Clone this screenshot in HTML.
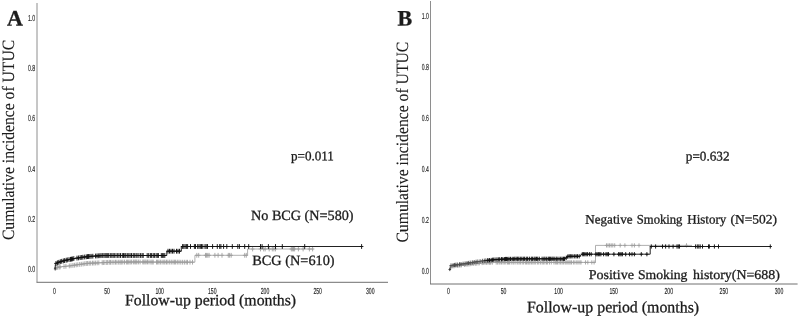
<!DOCTYPE html>
<html><head><meta charset="utf-8"><title>Cumulative incidence of UTUC</title>
<style>
html,body{margin:0;padding:0;background:#fff;}
body{width:799px;height:317px;overflow:hidden;}
svg{display:block;}
</style></head><body>
<svg width="799" height="317" viewBox="0 0 799 317" text-rendering="geometricPrecision">
<rect width="799" height="317" fill="#fff"/>
<path d="M37 3V282.3" fill="none" stroke="#8e8e8e" stroke-width="1"/>
<path d="M36.5 282.3H388" fill="none" stroke="#707070" stroke-width="1"/>
<text transform="translate(35.2,21.1) rotate(0.03) scale(0.59,1)" text-anchor="end" style='font-family:"Liberation Sans",sans-serif;font-size:8.7px;fill:#222;stroke:#222;stroke-width:0.15px'>1.0</text>
<text transform="translate(35.2,71.1) rotate(0.03) scale(0.59,1)" text-anchor="end" style='font-family:"Liberation Sans",sans-serif;font-size:8.7px;fill:#222;stroke:#222;stroke-width:0.15px'>0.8</text>
<text transform="translate(35.2,121.1) rotate(0.03) scale(0.59,1)" text-anchor="end" style='font-family:"Liberation Sans",sans-serif;font-size:8.7px;fill:#222;stroke:#222;stroke-width:0.15px'>0.6</text>
<text transform="translate(35.2,171.6) rotate(0.03) scale(0.59,1)" text-anchor="end" style='font-family:"Liberation Sans",sans-serif;font-size:8.7px;fill:#222;stroke:#222;stroke-width:0.15px'>0.4</text>
<text transform="translate(35.2,222.1) rotate(0.03) scale(0.59,1)" text-anchor="end" style='font-family:"Liberation Sans",sans-serif;font-size:8.7px;fill:#222;stroke:#222;stroke-width:0.15px'>0.2</text>
<text transform="translate(35.2,272.1) rotate(0.03) scale(0.59,1)" text-anchor="end" style='font-family:"Liberation Sans",sans-serif;font-size:8.7px;fill:#222;stroke:#222;stroke-width:0.15px'>0.0</text>
<text transform="translate(54.5,293.7) rotate(0.03) scale(0.59,1)" text-anchor="middle" style='font-family:"Liberation Sans",sans-serif;font-size:8.7px;fill:#222;stroke:#222;stroke-width:0.15px'>0</text>
<text transform="translate(107,293.7) rotate(0.03) scale(0.59,1)" text-anchor="middle" style='font-family:"Liberation Sans",sans-serif;font-size:8.7px;fill:#222;stroke:#222;stroke-width:0.15px'>50</text>
<text transform="translate(159.7,293.7) rotate(0.03) scale(0.59,1)" text-anchor="middle" style='font-family:"Liberation Sans",sans-serif;font-size:8.7px;fill:#222;stroke:#222;stroke-width:0.15px'>100</text>
<text transform="translate(212.3,293.7) rotate(0.03) scale(0.59,1)" text-anchor="middle" style='font-family:"Liberation Sans",sans-serif;font-size:8.7px;fill:#222;stroke:#222;stroke-width:0.15px'>150</text>
<text transform="translate(265,293.7) rotate(0.03) scale(0.59,1)" text-anchor="middle" style='font-family:"Liberation Sans",sans-serif;font-size:8.7px;fill:#222;stroke:#222;stroke-width:0.15px'>200</text>
<text transform="translate(317.7,293.7) rotate(0.03) scale(0.59,1)" text-anchor="middle" style='font-family:"Liberation Sans",sans-serif;font-size:8.7px;fill:#222;stroke:#222;stroke-width:0.15px'>250</text>
<text transform="translate(370.3,293.7) rotate(0.03) scale(0.59,1)" text-anchor="middle" style='font-family:"Liberation Sans",sans-serif;font-size:8.7px;fill:#222;stroke:#222;stroke-width:0.15px'>300</text>
<path d="M55.0 269.0 L55.6 267.8 L58.0 267.2 L70.0 265.8 L87.0 263.4 L110.0 262.3 L135.0 262.0 L194.9 262.2 L194.9 255.3 L247.6 255.3 L247.6 249.0 L313.4 249.0" fill="none" stroke="#9c9c9c" stroke-width="0.8"/>
<path d="M54.2 267.7h3.6M56.0 265.3v4.8M55.8 267.3h3.6M57.6 264.9v4.8M57.3 267.1h3.6M59.1 264.7v4.8M58.3 266.9h3.6M60.1 264.5v4.8M62.2 266.5h3.6M64.0 264.1v4.8M64.1 266.3h3.6M65.9 263.9v4.8M67.5 265.9h3.6M69.3 263.5v4.8M69.2 265.7h3.6M71.0 263.3v4.8M71.1 265.4h3.6M72.9 263.0v4.8M72.6 265.2h3.6M74.4 262.8v4.8M74.4 264.9h3.6M76.2 262.5v4.8M76.0 264.7h3.6M77.8 262.3v4.8M77.9 264.4h3.6M79.7 262.0v4.8M79.5 264.2h3.6M81.3 261.8v4.8M81.3 264.0h3.6M83.1 261.6v4.8M83.0 263.7h3.6M84.8 261.3v4.8M84.5 263.5h3.6M86.3 261.1v4.8M85.8 263.4h3.6M87.6 261.0v4.8M87.4 263.3h3.6M89.2 260.9v4.8M88.9 263.2h3.6M90.7 260.8v4.8M90.7 263.1h3.6M92.5 260.7v4.8M92.1 263.1h3.6M93.9 260.7v4.8M93.6 263.0h3.6M95.4 260.6v4.8M95.4 262.9h3.6M97.2 260.5v4.8M97.0 262.8h3.6M98.8 260.4v4.8M100.4 262.7h3.6M102.2 260.3v4.8M101.6 262.6h3.6M103.4 260.2v4.8M103.1 262.5h3.6M104.9 260.1v4.8M104.9 262.5h3.6M106.7 260.1v4.8M105.9 262.4h3.6M107.7 260.0v4.8M107.5 262.3h3.6M109.3 259.9v4.8M108.7 262.3h3.6M110.5 259.9v4.8M110.3 262.3h3.6M112.1 259.9v4.8M112.1 262.3h3.6M113.9 259.9v4.8M113.7 262.2h3.6M115.5 259.8v4.8M115.1 262.2h3.6M116.9 259.8v4.8M116.9 262.2h3.6M118.7 259.8v4.8M118.3 262.2h3.6M120.1 259.8v4.8M119.5 262.2h3.6M121.3 259.8v4.8M121.0 262.1h3.6M122.8 259.7v4.8M122.7 262.1h3.6M124.5 259.7v4.8M124.6 262.1h3.6M126.4 259.7v4.8M125.8 262.1h3.6M127.6 259.7v4.8M127.0 262.1h3.6M128.8 259.7v4.8M128.4 262.1h3.6M130.2 259.7v4.8M129.8 262.0h3.6M131.6 259.6v4.8M131.6 262.0h3.6M133.4 259.6v4.8M133.0 262.0h3.6M134.8 259.6v4.8M134.0 262.0h3.6M135.8 259.6v4.8M135.0 262.0h3.6M136.8 259.6v4.8M136.6 262.0h3.6M138.4 259.6v4.8M138.3 262.0h3.6M140.1 259.6v4.8M141.0 262.0h3.6M142.8 259.6v4.8M142.0 262.0h3.6M143.8 259.6v4.8M143.2 262.0h3.6M145.0 259.6v4.8M144.3 262.0h3.6M146.1 259.6v4.8M145.7 262.0h3.6M147.5 259.6v4.8M147.2 262.0h3.6M149.0 259.6v4.8M149.1 262.1h3.6M150.9 259.7v4.8M150.3 262.1h3.6M152.1 259.7v4.8M151.4 262.1h3.6M153.2 259.7v4.8M154.7 262.1h3.6M156.5 259.7v4.8M155.8 262.1h3.6M157.6 259.7v4.8M157.1 262.1h3.6M158.9 259.7v4.8M158.6 262.1h3.6M160.4 259.7v4.8M160.3 262.1h3.6M162.1 259.7v4.8M162.0 262.1h3.6M163.8 259.7v4.8M163.1 262.1h3.6M164.9 259.7v4.8M164.7 262.1h3.6M166.5 259.7v4.8M166.1 262.1h3.6M167.9 259.7v4.8M167.9 262.1h3.6M169.7 259.7v4.8M169.5 262.1h3.6M171.3 259.7v4.8M171.2 262.1h3.6M173.0 259.7v4.8M172.6 262.1h3.6M174.4 259.7v4.8M173.8 262.1h3.6M175.6 259.7v4.8M175.5 262.1h3.6M177.3 259.7v4.8M177.2 262.1h3.6M179.0 259.7v4.8M179.0 262.2h3.6M180.8 259.8v4.8M180.8 262.2h3.6M182.6 259.8v4.8M182.6 262.2h3.6M184.4 259.8v4.8M184.4 262.2h3.6M186.2 259.8v4.8M185.7 262.2h3.6M187.5 259.8v4.8M188.2 262.2h3.6M190.0 259.8v4.8M190.7 262.2h3.6M192.5 259.8v4.8M195.0 255.3h3.6M196.8 252.9v4.8M196.9 255.3h3.6M198.7 252.9v4.8M203.7 255.3h3.6M205.5 252.9v4.8M204.8 255.3h3.6M206.6 252.9v4.8M206.0 255.3h3.6M207.8 252.9v4.8M207.3 255.3h3.6M209.1 252.9v4.8M213.1 255.3h3.6M214.9 252.9v4.8M216.3 255.3h3.6M218.1 252.9v4.8M220.2 255.3h3.6M222.0 252.9v4.8M226.5 255.3h3.6M228.3 252.9v4.8M227.8 255.3h3.6M229.6 252.9v4.8M229.4 255.3h3.6M231.2 252.9v4.8M242.9 255.3h3.6M244.7 252.9v4.8M244.5 255.3h3.6M246.3 252.9v4.8M250.8 249.0h3.6M252.6 246.6v4.8M258.7 249.0h3.6M260.5 246.6v4.8M261.9 249.0h3.6M263.7 246.6v4.8M263.4 249.0h3.6M265.2 246.6v4.8M267.4 249.0h3.6M269.2 246.6v4.8M270.5 249.0h3.6M272.3 246.6v4.8M272.1 249.0h3.6M273.9 246.6v4.8M273.7 249.0h3.6M275.5 246.6v4.8M289.5 249.0h3.6M291.3 246.6v4.8M290.6 249.0h3.6M292.4 246.6v4.8M291.7 249.0h3.6M293.5 246.6v4.8M292.8 249.0h3.6M294.6 246.6v4.8M296.6 249.0h3.6M298.4 246.6v4.8M301.3 249.0h3.6M303.1 246.6v4.8M307.6 249.0h3.6M309.4 246.6v4.8M310.8 249.0h3.6M312.6 246.6v4.8" fill="none" stroke="#9c9c9c" stroke-width="0.85"/>
<path d="M55.0 269.0 L55.4 264.5 L56.0 263.4 L60.0 261.8 L66.0 260.2 L75.0 258.4 L87.3 256.6 L103.0 255.5 L166.8 255.5 L166.8 251.2 L181.3 251.2 L181.3 246.5 L361.6 246.5" fill="none" stroke="#222" stroke-width="1"/>
<path d="M54.2 263.4h3.6M56.0 261.0v4.8M55.6 262.8h3.6M57.4 260.4v4.8M57.0 262.3h3.6M58.8 259.9v4.8M58.5 261.7h3.6M60.3 259.3v4.8M59.9 261.3h3.6M61.7 258.9v4.8M61.5 260.9h3.6M63.3 258.5v4.8M62.8 260.6h3.6M64.6 258.2v4.8M64.4 260.2h3.6M66.2 257.8v4.8M65.5 259.9h3.6M67.3 257.5v4.8M67.2 259.6h3.6M69.0 257.2v4.8M68.7 259.3h3.6M70.5 256.9v4.8M69.7 259.1h3.6M71.5 256.7v4.8M70.8 258.9h3.6M72.6 256.5v4.8M72.0 258.6h3.6M73.8 256.2v4.8M75.2 258.1h3.6M77.0 255.7v4.8M76.8 257.9h3.6M78.6 255.5v4.8M78.4 257.6h3.6M80.2 255.2v4.8M79.9 257.4h3.6M81.7 255.0v4.8M81.1 257.2h3.6M82.9 254.8v4.8M82.9 257.0h3.6M84.7 254.6v4.8M84.5 256.8h3.6M86.3 254.4v4.8M85.7 256.6h3.6M87.5 254.2v4.8M86.7 256.5h3.6M88.5 254.1v4.8M88.0 256.4h3.6M89.8 254.0v4.8M89.3 256.3h3.6M91.1 253.9v4.8M91.0 256.2h3.6M92.8 253.8v4.8M93.8 256.0h3.6M95.6 253.6v4.8M95.2 255.9h3.6M97.0 253.5v4.8M96.5 255.8h3.6M98.3 253.4v4.8M98.0 255.7h3.6M99.8 253.3v4.8M99.2 255.6h3.6M101.0 253.2v4.8M100.5 255.5h3.6M102.3 253.1v4.8M102.1 255.5h3.6M103.9 253.1v4.8M103.3 255.5h3.6M105.1 253.1v4.8M104.4 255.5h3.6M106.2 253.1v4.8M105.5 255.5h3.6M107.3 253.1v4.8M106.9 255.5h3.6M108.7 253.1v4.8M108.5 255.5h3.6M110.3 253.1v4.8M110.0 255.5h3.6M111.8 253.1v4.8M111.3 255.5h3.6M113.1 253.1v4.8M112.5 255.5h3.6M114.3 253.1v4.8M114.2 255.5h3.6M116.0 253.1v4.8M115.9 255.5h3.6M117.7 253.1v4.8M117.2 255.5h3.6M119.0 253.1v4.8M118.7 255.5h3.6M120.5 253.1v4.8M120.5 255.5h3.6M122.3 253.1v4.8M121.7 255.5h3.6M123.5 253.1v4.8M123.0 255.5h3.6M124.8 253.1v4.8M124.0 255.5h3.6M125.8 253.1v4.8M125.5 255.5h3.6M127.3 253.1v4.8M127.0 255.5h3.6M128.8 253.1v4.8M128.3 255.5h3.6M130.1 253.1v4.8M129.7 255.5h3.6M131.5 253.1v4.8M131.4 255.5h3.6M133.2 253.1v4.8M132.5 255.5h3.6M134.3 253.1v4.8M134.2 255.5h3.6M136.0 253.1v4.8M135.3 255.5h3.6M137.1 253.1v4.8M137.1 255.5h3.6M138.9 253.1v4.8M138.8 255.5h3.6M140.6 253.1v4.8M140.3 255.5h3.6M142.1 253.1v4.8M141.4 255.5h3.6M143.2 253.1v4.8M145.4 255.5h3.6M147.2 253.1v4.8M146.9 255.5h3.6M148.7 253.1v4.8M148.6 255.5h3.6M150.4 253.1v4.8M149.8 255.5h3.6M151.6 253.1v4.8M151.4 255.5h3.6M153.2 253.1v4.8M152.6 255.5h3.6M154.4 253.1v4.8M154.3 255.5h3.6M156.1 253.1v4.8M155.5 255.5h3.6M157.3 253.1v4.8M156.6 255.5h3.6M158.4 253.1v4.8M159.5 255.5h3.6M161.3 253.1v4.8M160.6 255.5h3.6M162.4 253.1v4.8M161.9 255.5h3.6M163.7 253.1v4.8M163.0 255.5h3.6M164.8 253.1v4.8M166.2 251.2h3.6M168.0 248.8v4.8M167.7 251.2h3.6M169.5 248.8v4.8M169.2 251.2h3.6M171.0 248.8v4.8M170.7 251.2h3.6M172.5 248.8v4.8M172.2 251.2h3.6M174.0 248.8v4.8M174.7 251.2h3.6M176.5 248.8v4.8M176.2 251.2h3.6M178.0 248.8v4.8M177.7 251.2h3.6M179.5 248.8v4.8M180.8 246.5h3.6M182.6 244.1v4.8M182.0 246.5h3.6M183.8 244.1v4.8M183.3 246.5h3.6M185.1 244.1v4.8M184.6 246.5h3.6M186.4 244.1v4.8M185.8 246.5h3.6M187.6 244.1v4.8M188.7 246.5h3.6M190.5 244.1v4.8M192.6 246.5h3.6M194.4 244.1v4.8M193.7 246.5h3.6M195.5 244.1v4.8M195.9 246.5h3.6M197.7 244.1v4.8M197.2 246.5h3.6M199.0 244.1v4.8M198.5 246.5h3.6M200.3 244.1v4.8M199.7 246.5h3.6M201.5 244.1v4.8M201.0 246.5h3.6M202.8 244.1v4.8M203.2 246.5h3.6M205.0 244.1v4.8M204.4 246.5h3.6M206.2 244.1v4.8M205.7 246.5h3.6M207.5 244.1v4.8M210.8 246.5h3.6M212.6 244.1v4.8M215.5 246.5h3.6M217.3 244.1v4.8M217.9 246.5h3.6M219.7 244.1v4.8M219.1 246.5h3.6M220.9 244.1v4.8M221.8 246.5h3.6M223.6 244.1v4.8M225.0 246.5h3.6M226.8 244.1v4.8M230.5 246.5h3.6M232.3 244.1v4.8M236.0 246.5h3.6M237.8 244.1v4.8M237.6 246.5h3.6M239.4 244.1v4.8M242.9 246.5h3.6M244.7 244.1v4.8M246.9 246.5h3.6M248.7 244.1v4.8M258.7 246.5h3.6M260.5 244.1v4.8M260.3 246.5h3.6M262.1 244.1v4.8M266.6 246.5h3.6M268.4 244.1v4.8M273.7 246.5h3.6M275.5 244.1v4.8M280.5 246.5h3.6M282.3 244.1v4.8M302.9 246.5h3.6M304.7 244.1v4.8M359.8 246.5h3.6M361.6 244.1v4.8" fill="none" stroke="#111" stroke-width="0.95"/>
<path d="M53.900000000000006 268.9h2.6M55.2 267.29999999999995v3.2" fill="none" stroke="#333" stroke-width="0.9"/>
<path d="M430.5 1V284" fill="none" stroke="#8e8e8e" stroke-width="1"/>
<path d="M430.0 284H797.6" fill="none" stroke="#707070" stroke-width="1"/>
<text transform="translate(428.8,19.400000000000002) rotate(0.03) scale(0.59,1)" text-anchor="end" style='font-family:"Liberation Sans",sans-serif;font-size:8.7px;fill:#222;stroke:#222;stroke-width:0.15px'>1.0</text>
<text transform="translate(428.8,70.3) rotate(0.03) scale(0.59,1)" text-anchor="end" style='font-family:"Liberation Sans",sans-serif;font-size:8.7px;fill:#222;stroke:#222;stroke-width:0.15px'>0.8</text>
<text transform="translate(428.8,121.3) rotate(0.03) scale(0.59,1)" text-anchor="end" style='font-family:"Liberation Sans",sans-serif;font-size:8.7px;fill:#222;stroke:#222;stroke-width:0.15px'>0.6</text>
<text transform="translate(428.8,172.29999999999998) rotate(0.03) scale(0.59,1)" text-anchor="end" style='font-family:"Liberation Sans",sans-serif;font-size:8.7px;fill:#222;stroke:#222;stroke-width:0.15px'>0.4</text>
<text transform="translate(428.8,223.2) rotate(0.03) scale(0.59,1)" text-anchor="end" style='font-family:"Liberation Sans",sans-serif;font-size:8.7px;fill:#222;stroke:#222;stroke-width:0.15px'>0.2</text>
<text transform="translate(428.8,274.20000000000005) rotate(0.03) scale(0.59,1)" text-anchor="end" style='font-family:"Liberation Sans",sans-serif;font-size:8.7px;fill:#222;stroke:#222;stroke-width:0.15px'>0.0</text>
<text transform="translate(448.4,294.3) rotate(0.03) scale(0.59,1)" text-anchor="middle" style='font-family:"Liberation Sans",sans-serif;font-size:8.7px;fill:#222;stroke:#222;stroke-width:0.15px'>0</text>
<text transform="translate(503.5,294.3) rotate(0.03) scale(0.59,1)" text-anchor="middle" style='font-family:"Liberation Sans",sans-serif;font-size:8.7px;fill:#222;stroke:#222;stroke-width:0.15px'>50</text>
<text transform="translate(558.6,294.3) rotate(0.03) scale(0.59,1)" text-anchor="middle" style='font-family:"Liberation Sans",sans-serif;font-size:8.7px;fill:#222;stroke:#222;stroke-width:0.15px'>100</text>
<text transform="translate(613.7,294.3) rotate(0.03) scale(0.59,1)" text-anchor="middle" style='font-family:"Liberation Sans",sans-serif;font-size:8.7px;fill:#222;stroke:#222;stroke-width:0.15px'>150</text>
<text transform="translate(668.8,294.3) rotate(0.03) scale(0.59,1)" text-anchor="middle" style='font-family:"Liberation Sans",sans-serif;font-size:8.7px;fill:#222;stroke:#222;stroke-width:0.15px'>200</text>
<text transform="translate(723.9,294.3) rotate(0.03) scale(0.59,1)" text-anchor="middle" style='font-family:"Liberation Sans",sans-serif;font-size:8.7px;fill:#222;stroke:#222;stroke-width:0.15px'>250</text>
<text transform="translate(779,294.3) rotate(0.03) scale(0.59,1)" text-anchor="middle" style='font-family:"Liberation Sans",sans-serif;font-size:8.7px;fill:#222;stroke:#222;stroke-width:0.15px'>300</text>
<path d="M450.0 269.5 L450.6 267.2 L452.0 266.4 L462.0 265.2 L473.0 263.8 L484.0 262.8 L500.0 262.4 L595.5 262.4 L595.5 245.4 L692.0 245.4" fill="none" stroke="#9c9c9c" stroke-width="0.8"/>
<path d="M449.4 267.0h3.2M451.0 264.9v4.2M451.1 266.3h3.2M452.7 264.2v4.2M452.5 266.2h3.2M454.1 264.1v4.2M454.3 265.9h3.2M455.9 263.8v4.2M455.9 265.7h3.2M457.5 263.6v4.2M457.3 265.6h3.2M458.9 263.5v4.2M458.4 265.4h3.2M460.0 263.3v4.2M459.8 265.3h3.2M461.4 263.2v4.2M462.8 264.9h3.2M464.4 262.8v4.2M464.4 264.7h3.2M466.0 262.6v4.2M466.2 264.5h3.2M467.8 262.4v4.2M467.5 264.3h3.2M469.1 262.2v4.2M469.1 264.1h3.2M470.7 262.0v4.2M470.4 263.9h3.2M472.0 261.8v4.2M472.0 263.7h3.2M473.6 261.6v4.2M473.7 263.6h3.2M475.3 261.5v4.2M474.7 263.5h3.2M476.3 261.4v4.2M476.4 263.3h3.2M478.0 261.2v4.2M477.7 263.2h3.2M479.3 261.1v4.2M480.5 263.0h3.2M482.1 260.9v4.2M481.6 262.9h3.2M483.2 260.8v4.2M483.4 262.8h3.2M485.0 260.7v4.2M484.9 262.7h3.2M486.5 260.6v4.2M486.4 262.7h3.2M488.0 260.6v4.2M488.0 262.7h3.2M489.6 260.6v4.2M489.0 262.6h3.2M490.6 260.5v4.2M490.7 262.6h3.2M492.3 260.5v4.2M494.6 262.5h3.2M496.2 260.4v4.2M496.0 262.5h3.2M497.6 260.4v4.2M497.5 262.4h3.2M499.1 260.3v4.2M498.5 262.4h3.2M500.1 260.3v4.2M499.9 262.4h3.2M501.5 260.3v4.2M501.4 262.4h3.2M503.0 260.3v4.2M502.7 262.4h3.2M504.3 260.3v4.2M504.2 262.4h3.2M505.8 260.3v4.2M505.9 262.4h3.2M507.5 260.3v4.2M506.9 262.4h3.2M508.5 260.3v4.2M507.9 262.4h3.2M509.5 260.3v4.2M509.6 262.4h3.2M511.2 260.3v4.2M511.4 262.4h3.2M513.0 260.3v4.2M512.4 262.4h3.2M514.0 260.3v4.2M514.3 262.4h3.2M515.9 260.3v4.2M516.1 262.4h3.2M517.7 260.3v4.2M517.5 262.4h3.2M519.1 260.3v4.2M518.8 262.4h3.2M520.4 260.3v4.2M520.6 262.4h3.2M522.2 260.3v4.2M522.0 262.4h3.2M523.6 260.3v4.2M523.8 262.4h3.2M525.4 260.3v4.2M524.9 262.4h3.2M526.5 260.3v4.2M526.3 262.4h3.2M527.9 260.3v4.2M527.3 262.4h3.2M528.9 260.3v4.2M528.4 262.4h3.2M530.0 260.3v4.2M530.0 262.4h3.2M531.6 260.3v4.2M531.3 262.4h3.2M532.9 260.3v4.2M532.6 262.4h3.2M534.2 260.3v4.2M534.1 262.4h3.2M535.7 260.3v4.2M536.0 262.4h3.2M537.6 260.3v4.2M537.2 262.4h3.2M538.8 260.3v4.2M539.0 262.4h3.2M540.6 260.3v4.2M540.6 262.4h3.2M542.2 260.3v4.2M541.8 262.4h3.2M543.4 260.3v4.2M543.3 262.4h3.2M544.9 260.3v4.2M544.9 262.4h3.2M546.5 260.3v4.2M546.0 262.4h3.2M547.6 260.3v4.2M547.9 262.4h3.2M549.5 260.3v4.2M549.7 262.4h3.2M551.3 260.3v4.2M552.3 262.4h3.2M553.9 260.3v4.2M553.7 262.4h3.2M555.3 260.3v4.2M554.8 262.4h3.2M556.4 260.3v4.2M555.9 262.4h3.2M557.5 260.3v4.2M557.5 262.4h3.2M559.1 260.3v4.2M559.0 262.4h3.2M560.6 260.3v4.2M560.5 262.4h3.2M562.1 260.3v4.2M561.8 262.4h3.2M563.4 260.3v4.2M563.5 262.4h3.2M565.1 260.3v4.2M564.6 262.4h3.2M566.2 260.3v4.2M566.2 262.4h3.2M567.8 260.3v4.2M567.4 262.4h3.2M569.0 260.3v4.2M568.6 262.4h3.2M570.2 260.3v4.2M569.9 262.4h3.2M571.5 260.3v4.2M571.8 262.4h3.2M573.4 260.3v4.2M573.3 262.4h3.2M574.9 260.3v4.2M575.2 262.4h3.2M576.8 260.3v4.2M576.5 262.4h3.2M578.1 260.3v4.2M578.3 262.4h3.2M579.9 260.3v4.2M579.4 262.4h3.2M581.0 260.3v4.2M583.9 262.4h3.2M585.5 260.3v4.2M586.2 262.4h3.2M587.8 260.3v4.2M590.2 262.4h3.2M591.8 260.3v4.2M592.5 262.4h3.2M594.1 260.3v4.2M604.9 245.4h3.2M606.5 243.3v4.2M606.4 245.4h3.2M608.0 243.3v4.2M608.0 245.4h3.2M609.6 243.3v4.2M609.6 245.4h3.2M611.2 243.3v4.2M611.2 245.4h3.2M612.8 243.3v4.2M613.1 245.4h3.2M614.7 243.3v4.2M618.6 245.4h3.2M620.2 243.3v4.2M623.3 245.4h3.2M624.9 243.3v4.2M630.4 245.4h3.2M632.0 243.3v4.2M632.8 245.4h3.2M634.4 243.3v4.2M637.4 245.4h3.2M639.0 243.3v4.2M684.9 245.4h3.2M686.5 243.3v4.2" fill="none" stroke="#9c9c9c" stroke-width="0.85"/>
<path d="M449.4 265.5h3.2M451.0 263.4v4.2M451.5 265.2h3.2M453.1 263.1v4.2M452.9 265.0h3.2M454.5 262.9v4.2M454.2 264.8h3.2M455.8 262.7v4.2M455.7 264.6h3.2M457.3 262.5v4.2M457.9 264.3h3.2M459.5 262.2v4.2M459.4 264.1h3.2M461.0 262.0v4.2M461.5 263.8h3.2M463.1 261.7v4.2M463.5 263.5h3.2M465.1 261.4v4.2M465.4 263.2h3.2M467.0 261.1v4.2M466.8 263.0h3.2M468.4 260.9v4.2M468.6 262.7h3.2M470.2 260.6v4.2M470.7 262.4h3.2M472.3 260.3v4.2M472.6 262.1h3.2M474.2 260.0v4.2M474.5 261.8h3.2M476.1 259.7v4.2M476.2 261.6h3.2M477.8 259.5v4.2M478.5 261.3h3.2M480.1 259.2v4.2M480.8 260.9h3.2M482.4 258.8v4.2M482.7 260.7h3.2M484.3 258.6v4.2M484.2 260.5h3.2M485.8 258.4v4.2M486.0 260.3h3.2M487.6 258.2v4.2" fill="none" stroke="#3a3a3a" stroke-width="0.8"/>
<path d="M450.0 269.5 L450.4 266.4 L451.0 265.5 L462.0 264.0 L473.0 262.3 L484.0 260.7" fill="none" stroke="#555" stroke-width="0.8"/>
<path d="M484.0 260.7 L495.0 259.6 L506.0 259.0 L517.0 258.8 L565.0 258.8 L568.0 256.3 L580.0 256.3 L581.5 254.2 L650.2 254.2 L650.2 246.5 L770.3 246.5" fill="none" stroke="#222" stroke-width="1"/>
<path d="M486.4 260.3h3.2M488.0 258.2v4.2M487.9 260.2h3.2M489.5 258.1v4.2M489.6 260.0h3.2M491.2 257.9v4.2M491.0 259.8h3.2M492.6 257.7v4.2M492.1 259.7h3.2M493.7 257.6v4.2M493.5 259.6h3.2M495.1 257.5v4.2M495.3 259.5h3.2M496.9 257.4v4.2M496.7 259.4h3.2M498.3 257.3v4.2M498.1 259.3h3.2M499.7 257.2v4.2M499.9 259.2h3.2M501.5 257.1v4.2M501.2 259.2h3.2M502.8 257.1v4.2M502.8 259.1h3.2M504.4 257.0v4.2M503.9 259.0h3.2M505.5 256.9v4.2M504.9 259.0h3.2M506.5 256.9v4.2M506.1 259.0h3.2M507.7 256.9v4.2M507.4 258.9h3.2M509.0 256.8v4.2M508.9 258.9h3.2M510.5 256.8v4.2M510.6 258.9h3.2M512.2 256.8v4.2M512.1 258.9h3.2M513.7 256.8v4.2M513.2 258.8h3.2M514.8 256.7v4.2M514.6 258.8h3.2M516.2 256.7v4.2M516.0 258.8h3.2M517.6 256.7v4.2M517.2 258.8h3.2M518.8 256.7v4.2M518.7 258.8h3.2M520.3 256.7v4.2M520.2 258.8h3.2M521.8 256.7v4.2M521.7 258.8h3.2M523.3 256.7v4.2M523.0 258.8h3.2M524.6 256.7v4.2M524.7 258.8h3.2M526.3 256.7v4.2M526.0 258.8h3.2M527.6 256.7v4.2M527.8 258.8h3.2M529.4 256.7v4.2M529.7 258.8h3.2M531.3 256.7v4.2M530.8 258.8h3.2M532.4 256.7v4.2M532.5 258.8h3.2M534.1 256.7v4.2M533.6 258.8h3.2M535.2 256.7v4.2M534.9 258.8h3.2M536.5 256.7v4.2M536.1 258.8h3.2M537.7 256.7v4.2M537.7 258.8h3.2M539.3 256.7v4.2M540.5 258.8h3.2M542.1 256.7v4.2M542.3 258.8h3.2M543.9 256.7v4.2M543.4 258.8h3.2M545.0 256.7v4.2M545.1 258.8h3.2M546.7 256.7v4.2M546.7 258.8h3.2M548.3 256.7v4.2M547.8 258.8h3.2M549.4 256.7v4.2M548.8 258.8h3.2M550.4 256.7v4.2M550.3 258.8h3.2M551.9 256.7v4.2M551.4 258.8h3.2M553.0 256.7v4.2M552.6 258.8h3.2M554.2 256.7v4.2M554.5 258.8h3.2M556.1 256.7v4.2M555.5 258.8h3.2M557.1 256.7v4.2M557.4 258.8h3.2M559.0 256.7v4.2M559.1 258.8h3.2M560.7 256.7v4.2M560.5 258.8h3.2M562.1 256.7v4.2M561.9 258.8h3.2M563.5 256.7v4.2M562.9 258.8h3.2M564.5 256.7v4.2M564.7 257.7h3.2M566.3 255.6v4.2M566.1 256.6h3.2M567.7 254.5v4.2M567.4 256.3h3.2M569.0 254.2v4.2M568.6 256.3h3.2M570.2 254.2v4.2M569.6 256.3h3.2M571.2 254.2v4.2M571.3 256.3h3.2M572.9 254.2v4.2M573.1 256.3h3.2M574.7 254.2v4.2M574.5 256.3h3.2M576.1 254.2v4.2M575.9 256.3h3.2M577.5 254.2v4.2M577.6 256.3h3.2M579.2 254.2v4.2M580.7 254.2h3.2M582.3 252.1v4.2M582.0 254.2h3.2M583.6 252.1v4.2M583.2 254.2h3.2M584.8 252.1v4.2M584.5 254.2h3.2M586.1 252.1v4.2M585.8 254.2h3.2M587.4 252.1v4.2M587.8 254.2h3.2M589.4 252.1v4.2M589.6 254.2h3.2M591.2 252.1v4.2M594.3 254.2h3.2M595.9 252.1v4.2M595.5 254.2h3.2M597.1 252.1v4.2M596.8 254.2h3.2M598.4 252.1v4.2M598.1 254.2h3.2M599.7 252.1v4.2M599.3 254.2h3.2M600.9 252.1v4.2M602.0 254.2h3.2M603.6 252.1v4.2M604.4 254.2h3.2M606.0 252.1v4.2M605.6 254.2h3.2M607.2 252.1v4.2M606.9 254.2h3.2M608.5 252.1v4.2M612.3 254.2h3.2M613.9 252.1v4.2M617.0 254.2h3.2M618.6 252.1v4.2M618.3 254.2h3.2M619.9 252.1v4.2M619.5 254.2h3.2M621.1 252.1v4.2M620.8 254.2h3.2M622.4 252.1v4.2M624.1 254.2h3.2M625.7 252.1v4.2M628.0 254.2h3.2M629.6 252.1v4.2M630.4 254.2h3.2M632.0 252.1v4.2M632.8 254.2h3.2M634.4 252.1v4.2M639.7 254.2h3.2M641.3 252.1v4.2M645.3 254.2h3.2M646.9 252.1v4.2M649.7 246.5h3.2M651.3 244.4v4.2M654.0 246.5h3.2M655.6 244.4v4.2M660.9 246.5h3.2M662.5 244.4v4.2M664.0 246.5h3.2M665.6 244.4v4.2M667.4 246.5h3.2M669.0 244.4v4.2M671.5 246.5h3.2M673.1 244.4v4.2M675.4 246.5h3.2M677.0 244.4v4.2M676.7 246.5h3.2M678.3 244.4v4.2M677.9 246.5h3.2M679.5 244.4v4.2M694.0 246.5h3.2M695.6 244.4v4.2M695.7 246.5h3.2M697.3 244.4v4.2M697.2 246.5h3.2M698.8 244.4v4.2M698.6 246.5h3.2M700.2 244.4v4.2M700.9 246.5h3.2M702.5 244.4v4.2M706.9 246.5h3.2M708.5 244.4v4.2M707.8 246.5h3.2M709.4 244.4v4.2M712.8 246.5h3.2M714.4 244.4v4.2M716.9 246.5h3.2M718.5 244.4v4.2M768.7 246.5h3.2M770.3 244.4v4.2" fill="none" stroke="#111" stroke-width="0.95"/>
<path d="M448.5 269.5h2.6M449.8 267.9v3.2" fill="none" stroke="#333" stroke-width="0.9"/>
<text transform="translate(7,25.6) rotate(0.03)" style='font-family:"Liberation Serif",serif;fill:#1c1c1c;stroke:#1c1c1c;stroke-width:0.3px;font-size:22px;font-weight:bold'>A</text>
<text transform="translate(397.5,25.6) rotate(0.03)" style='font-family:"Liberation Serif",serif;fill:#1c1c1c;stroke:#1c1c1c;stroke-width:0.3px;font-size:22px;font-weight:bold'>B</text>
<text transform="translate(13.7,240.1) rotate(-90) scale(0.905,1)" style='font-family:"Liberation Serif",serif;fill:#1c1c1c;stroke:#1c1c1c;stroke-width:0.3px;font-size:17.3px;stroke-width:0.1px'>Cumulative incidence of UTUC</text>
<text transform="translate(408,242.6) rotate(-90) scale(0.908,1)" style='font-family:"Liberation Serif",serif;fill:#1c1c1c;stroke:#1c1c1c;stroke-width:0.3px;font-size:17.3px;stroke-width:0.1px'>Cumulative incidence of UTUC</text>
<text transform="translate(125,305.2) rotate(0.03)" style='font-family:"Liberation Serif",serif;fill:#1c1c1c;stroke:#1c1c1c;stroke-width:0.3px;font-size:15.8px'>Follow-up period (months)</text>
<text transform="translate(527,312.3) rotate(0.03)" style='font-family:"Liberation Serif",serif;fill:#1c1c1c;stroke:#1c1c1c;stroke-width:0.3px;font-size:15.9px'>Follow-up period (months)</text>
<text transform="translate(291,160.2) rotate(0.03)" style='font-family:"Liberation Serif",serif;fill:#1c1c1c;stroke:#1c1c1c;stroke-width:0.3px;font-size:13.1px'>p=0.011</text>
<text transform="translate(251,220) rotate(0.03)" style='font-family:"Liberation Serif",serif;fill:#1c1c1c;stroke:#1c1c1c;stroke-width:0.3px;font-size:14.2px'>No BCG (N=580)</text>
<text transform="translate(252.3,265) rotate(0.03)" style='font-family:"Liberation Serif",serif;fill:#1c1c1c;stroke:#1c1c1c;stroke-width:0.3px;font-size:14.3px'>BCG (N=610)</text>
<text transform="translate(685.8,160.6) rotate(0.03)" style='font-family:"Liberation Serif",serif;fill:#1c1c1c;stroke:#1c1c1c;stroke-width:0.3px;font-size:13.2px'>p=0.632</text>
<text transform="translate(585.3,223.5) rotate(0.03)" textLength="47.2" lengthAdjust="spacingAndGlyphs" style='font-family:"Liberation Serif",serif;fill:#1c1c1c;stroke:#1c1c1c;stroke-width:0.3px;font-size:12.9px'>Negative</text>
<text transform="translate(636.8,223.5) rotate(0.03)" textLength="45.6" lengthAdjust="spacingAndGlyphs" style='font-family:"Liberation Serif",serif;fill:#1c1c1c;stroke:#1c1c1c;stroke-width:0.3px;font-size:12.9px'>Smoking</text>
<text transform="translate(687.3,223.5) rotate(0.03)" textLength="39" lengthAdjust="spacingAndGlyphs" style='font-family:"Liberation Serif",serif;fill:#1c1c1c;stroke:#1c1c1c;stroke-width:0.3px;font-size:12.9px'>History</text>
<text transform="translate(730.6,223.5) rotate(0.03)" textLength="46.4" lengthAdjust="spacingAndGlyphs" style='font-family:"Liberation Serif",serif;fill:#1c1c1c;stroke:#1c1c1c;stroke-width:0.3px;font-size:12.9px'>(N=502)</text>
<text transform="translate(588.7,278.9) rotate(0.03)" textLength="45.2" lengthAdjust="spacingAndGlyphs" style='font-family:"Liberation Serif",serif;fill:#1c1c1c;stroke:#1c1c1c;stroke-width:0.3px;font-size:13.4px'>Positive</text>
<text transform="translate(638.0,278.9) rotate(0.03)" textLength="49.4" lengthAdjust="spacingAndGlyphs" style='font-family:"Liberation Serif",serif;fill:#1c1c1c;stroke:#1c1c1c;stroke-width:0.3px;font-size:13.4px'>Smoking</text>
<text transform="translate(693.1,278.9) rotate(0.03)" textLength="86.8" lengthAdjust="spacingAndGlyphs" style='font-family:"Liberation Serif",serif;fill:#1c1c1c;stroke:#1c1c1c;stroke-width:0.3px;font-size:13.4px'>history(N=688)</text>
</svg>
</body></html>
